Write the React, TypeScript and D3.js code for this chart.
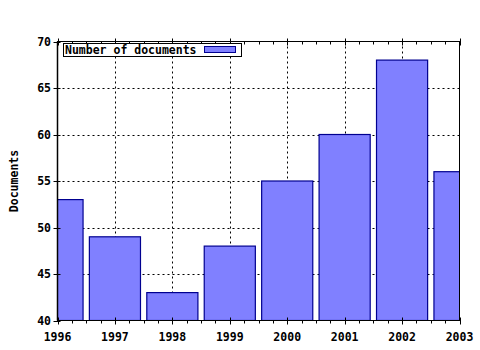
import React from "react";
import * as d3 from "d3";

const years = [1996, 1997, 1998, 1999, 2000, 2001, 2002, 2003];
const documents = [53, 49, 43, 48, 55, 60, 68, 56];
const yTicks = [40, 45, 50, 55, 60, 65, 70];
const seriesName = "Number of documents";
const yTitle = "Documents";

const W = 480, H = 350;
const L = 57.5, R = 459.5, T = 41.5, B = 320.5;
const FONT = "'DejaVu Sans Mono', monospace";

export default function App() {
  const x = d3.scaleLinear().domain([1996, 2003]).range([L, R]);
  const y = d3.scaleLinear().domain([40, 70]).range([B, T]);
  const step = x(1997) - x(1996);
  const bw = step * 0.89;
  const minor = d3.range(1996, 2003.001, 0.25).filter((v) => Math.abs(v - Math.round(v)) > 0.01);

  return (
    <svg width={W} height={H} style={{ position: "absolute", left: 0, top: 0, background: "#fff" }}>
      <defs>
        <clipPath id="plot">
          <rect x={L} y={T} width={R - L} height={B - T} />
        </clipPath>
      </defs>
      <rect x={0} y={0} width={W} height={H} fill="#fff" />
      {/* grid */}
      <g stroke="#000" strokeWidth={1} strokeDasharray="2,3">
        {years.slice(1, -1).map((yr) => (
          <line key={yr} x1={Math.round(x(yr)) + 0.5} x2={Math.round(x(yr)) + 0.5} y1={T} y2={B} />
        ))}
        {yTicks.slice(1, -1).map((v) => (
          <line key={v} x1={L} x2={R} y1={Math.round(y(v)) + 0.5} y2={Math.round(y(v)) + 0.5} />
        ))}
      </g>
      {/* bars */}
      <g clipPath="url(#plot)">
        {years.map((yr, i) => (
          <rect
            key={yr}
            x={x(yr) - bw / 2}
            y={y(documents[i])}
            width={bw}
            height={B - y(documents[i])}
            fill="#8080ff"
            stroke="#000090"
            strokeWidth={1.2}
          />
        ))}
      </g>
      {/* frame */}
      <rect x={L} y={T} width={R - L} height={B - T} fill="none" stroke="#000" strokeWidth={1} />
      <line x1={L} x2={L} y1={T} y2={B} stroke="#000" strokeWidth={1.5} />
      {/* x ticks */}
      <g stroke="#000" strokeWidth={1}>
        {years.map((yr) => (
          <g key={yr}>
            <line x1={Math.round(x(yr)) + 0.5} x2={Math.round(x(yr)) + 0.5} y1={B - 3} y2={B + 4} />
            <line x1={Math.round(x(yr)) + 0.5} x2={Math.round(x(yr)) + 0.5} y1={T - 3} y2={T + 4} />
          </g>
        ))}
        {minor.map((v) => (
          <g key={v}>
            <line x1={Math.round(x(v)) + 0.5} x2={Math.round(x(v)) + 0.5} y1={B} y2={B + 3} />
            <line x1={Math.round(x(v)) + 0.5} x2={Math.round(x(v)) + 0.5} y1={T} y2={T + 3} />
          </g>
        ))}
        {yTicks.map((v) => (
          <line key={v} x1={L - 4} x2={L + 3} y1={Math.round(y(v)) + 0.5} y2={Math.round(y(v)) + 0.5} />
        ))}
      </g>
      {/* labels */}
      <g fontFamily={FONT} fontWeight="bold" fontSize={11.5} fill="#000">
        {yTicks.map((v) => (
          <text key={v} x={51} y={y(v) + 4} textAnchor="end">{v}</text>
        ))}
        {years.map((yr) => (
          <text key={yr} x={x(yr)} y={341} textAnchor="middle">{yr}</text>
        ))}
        <text transform={`translate(18, ${(T + B) / 2}) rotate(-90)`} textAnchor="middle">{yTitle}</text>
      </g>
      {/* legend */}
      <g>
        <rect x={63.5} y={43.5} width={178} height={13} fill="#fff" stroke="#000" strokeWidth={1} />
        <text x={65} y={54} fontFamily={FONT} fontWeight="bold" fontSize={11.5}>{seriesName}</text>
        <rect x={204.5} y={46.5} width={31} height={6} fill="#8080ff" stroke="#000090" strokeWidth={1} />
      </g>
    </svg>
  );
}
